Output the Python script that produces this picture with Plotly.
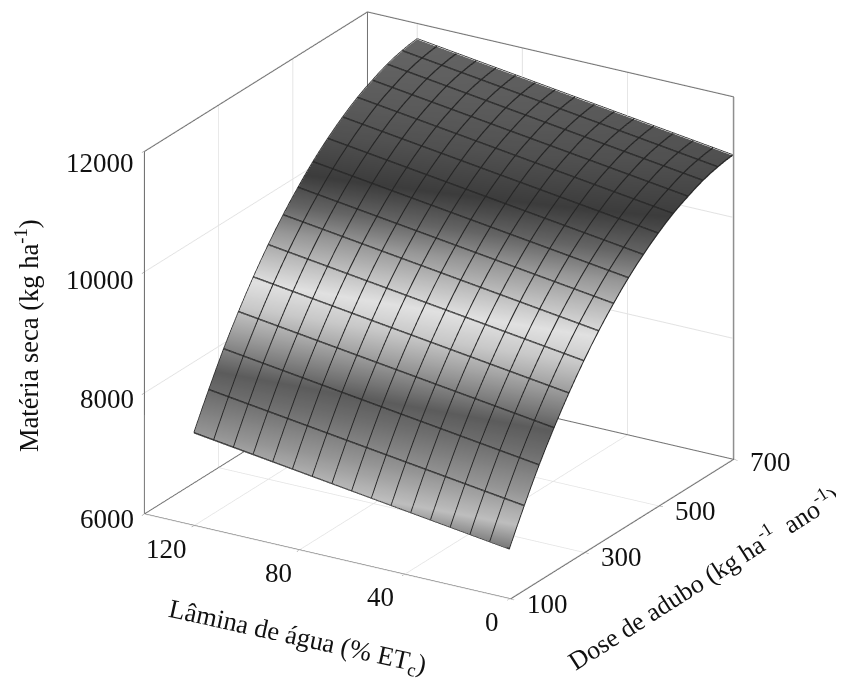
import plotly.graph_objects as go

lamina = [0, 120]
dose = [100,120,140,160,180,200,220,240,260,280,300,320,340,360,380,400,420,440,460,480,500,520,540,560,580,600,620,640,660,680,700]
z_lamina_0 = [6820,7105,7380,7645,7900,8135,8360,8575,8780,8975,9160,9335,9500,9655,9800,9940,10070,10190,10300,10405,10500,10590,10670,10740,10800,10860,10910,10950,10980,11005,11020]
z_lamina_120 = [7530,7815,8090,8355,8610,8845,9070,9285,9490,9685,9870,10045,10210,10365,10510,10650,10780,10900,11010,11115,11210,11300,11380,11450,11510,11570,11620,11660,11690,11715,11730]

# grey level seen on the surface at each height
shade_z = [6820, 7130, 7530, 8030, 8330, 8830, 9130, 9430, 9730, 10030, 10330, 10660, 11030, 11330, 11730]
shade_grey = [120, 190, 150, 110, 92, 160, 200, 225, 190, 150, 100, 60, 80, 90, 100]

mesh_lamina = [0, 7.5, 15, 22.5, 30, 37.5, 45, 52.5, 60, 67.5, 75, 82.5, 90, 97.5, 105, 112.5, 120]
mesh_dose = [100,140,180,220,260,300,340,380,420,460,500,540,580,620,660,700]

x_ticks = [0, 40, 80, 120]
y_ticks = [100, 300, 500, 700]
z_ticks = [6000, 8000, 10000, 12000]
x_range = [139, -0.5]
y_range = [100, 700]
z_range = [6000, 12000]

z_matrix = [[a, b] for a, b in zip(z_lamina_0, z_lamina_120)]
colorscale = [[(v - shade_z[0]) / (shade_z[-1] - shade_z[0]), f"rgb({g},{g},{g})"]
              for v, g in zip(shade_z, shade_grey)]

FONT = "Liberation Serif"
EDGE = "#747474"
GRID = "#e2e2e2"
TEXT = "#111111"
MESH = "#262626"
LIFT = 15

fig = go.Figure()
fig.add_trace(go.Surface(
    x=lamina, y=dose, z=z_matrix,
    cmin=shade_z[0], cmax=shade_z[-1], colorscale=colorscale, showscale=False,
    lighting=dict(ambient=1, diffuse=0, specular=0, roughness=1, fresnel=0),
    hoverinfo="skip",
    contours=dict(
        x=dict(show=True, start=0, end=120, size=7.5, color=MESH, width=1),
        y=dict(show=True, start=100, end=700, size=40, color=MESH, width=1),
    ),
))

# the surface's wire mesh, drawn on the surface's own heights
mx, my, mz = [], [], []
for d in mesh_dose:
    i = dose.index(d)
    mx += lamina + [None]
    my += [d, d, None]
    mz += [z_lamina_0[i] + LIFT, z_lamina_120[i] + LIFT, None]
for v in mesh_lamina:
    w = v / lamina[1]
    mx += [v] * len(dose) + [None]
    my += dose + [None]
    mz += [a + (b - a) * w + LIFT for a, b in zip(z_lamina_0, z_lamina_120)] + [None]
fig.add_trace(go.Scatter3d(x=mx, y=my, z=mz, mode="lines", showlegend=False,
                           hoverinfo="skip", line=dict(color=MESH, width=1.5)))

# box edges, held a hair inside the range so the clip bounds do not eat them
xl, xh = x_range[0] - 0.15, x_range[1] + 0.05
yl, yh = y_range[0] + 0.5, y_range[1] - 0.5
zl, zh = z_range[0] + 4, z_range[1] - 4
edges = [
    ([xl, xh], [yl, yl], [zl, zl]),
    ([xh, xh], [yl, yh], [zl, zl]),
    ([xl, xl], [yl, yh], [zl, zl]),
    ([xl, xh], [yh, yh], [zl, zl]),
    ([xl, xl], [yl, yl], [zl, zh]),
    ([xl, xl], [yh, yh], [zl, zh]),
    ([xh, xh], [yh, yh], [zl, zh]),
    ([xl, xl], [yl, yh], [zh, zh]),
    ([xl, xh], [yh, yh], [zh, zh]),
]
for ex, ey, ez in edges:
    fig.add_trace(go.Scatter3d(x=ex, y=ey, z=ez, mode="lines", showlegend=False,
                               hoverinfo="skip", line=dict(color=EDGE, width=2)))

def axis(rng, ticks):
    return dict(range=rng, tickvals=ticks, showticklabels=False, title=dict(text=""),
                showbackground=False, showgrid=True, gridcolor=GRID, gridwidth=2,
                zeroline=False, showline=False, ticks="outside", ticklen=4, tickcolor=EDGE,
                showspikes=False)

def label(x, y, z, dx, dy, text, anchor="center"):
    return dict(x=x, y=y, z=z, text=text, showarrow=False, xshift=dx, yshift=dy, xanchor=anchor,
                font=dict(family=FONT, size=27, color=TEXT))

x_dx = [-18, -24, -21, -28]
y_dy = [-5, -5, -5, -3]
z_dy = [-5, -6, -8, -12]
tick_notes = (
    [label(t, y_range[0], z_range[0], d, -23, str(t)) for t, d in zip(x_ticks, x_dx)]
    + [label(x_range[1], t, z_range[0], 36, d, str(t)) for t, d in zip(y_ticks, y_dy)]
    + [label(x_range[0], y_range[0], t, -8, d, str(t), "right") for t, d in zip(z_ticks, z_dy)]
)

s = 1.408
view = 3
fig.update_layout(
    width=844, height=682, paper_bgcolor="white", showlegend=False,
    margin=dict(l=0, r=0, t=0, b=0),
    scene=dict(
        domain=dict(x=[0.031, 0.991], y=[0.106, 1]),
        xaxis=axis(x_range, x_ticks), yaxis=axis(y_range, y_ticks), zaxis=axis(z_range, z_ticks),
        aspectmode="manual", aspectratio=dict(x=s, y=s, z=0.914*s),
        camera=dict(projection=dict(type="orthographic"),
                    eye=dict(x=0.481*view, y=-0.79*view, z=0.381*view-0.027),
                    center=dict(x=0, y=0, z=-0.027), up=dict(x=0, y=0, z=1)),
        annotations=tick_notes,
    ),
    annotations=[
        dict(text="Matéria seca (kg ha<sup>-1</sup>)", x=19, y=328, textangle=-90),
        dict(text="Lâmina de água (% ET<sub>c</sub>)", x=289, y=630, textangle=12.5),
        dict(text="Dose de adubo (kg ha<sup>-1</sup>  ano<sup>-1</sup>)", x=695, y=569, textangle=-32.5),
    ],
)
sizes = [26.5, 26.5, 26]
for a, size in zip(fig.layout.annotations, sizes):
    a.update(xref="paper", yref="paper", xanchor="center", yanchor="middle", showarrow=False,
             font=dict(family=FONT, size=size, color=TEXT))
    a.x = a.x / 844
    a.y = 1 - a.y / 682

fig.write_html("out.html")
